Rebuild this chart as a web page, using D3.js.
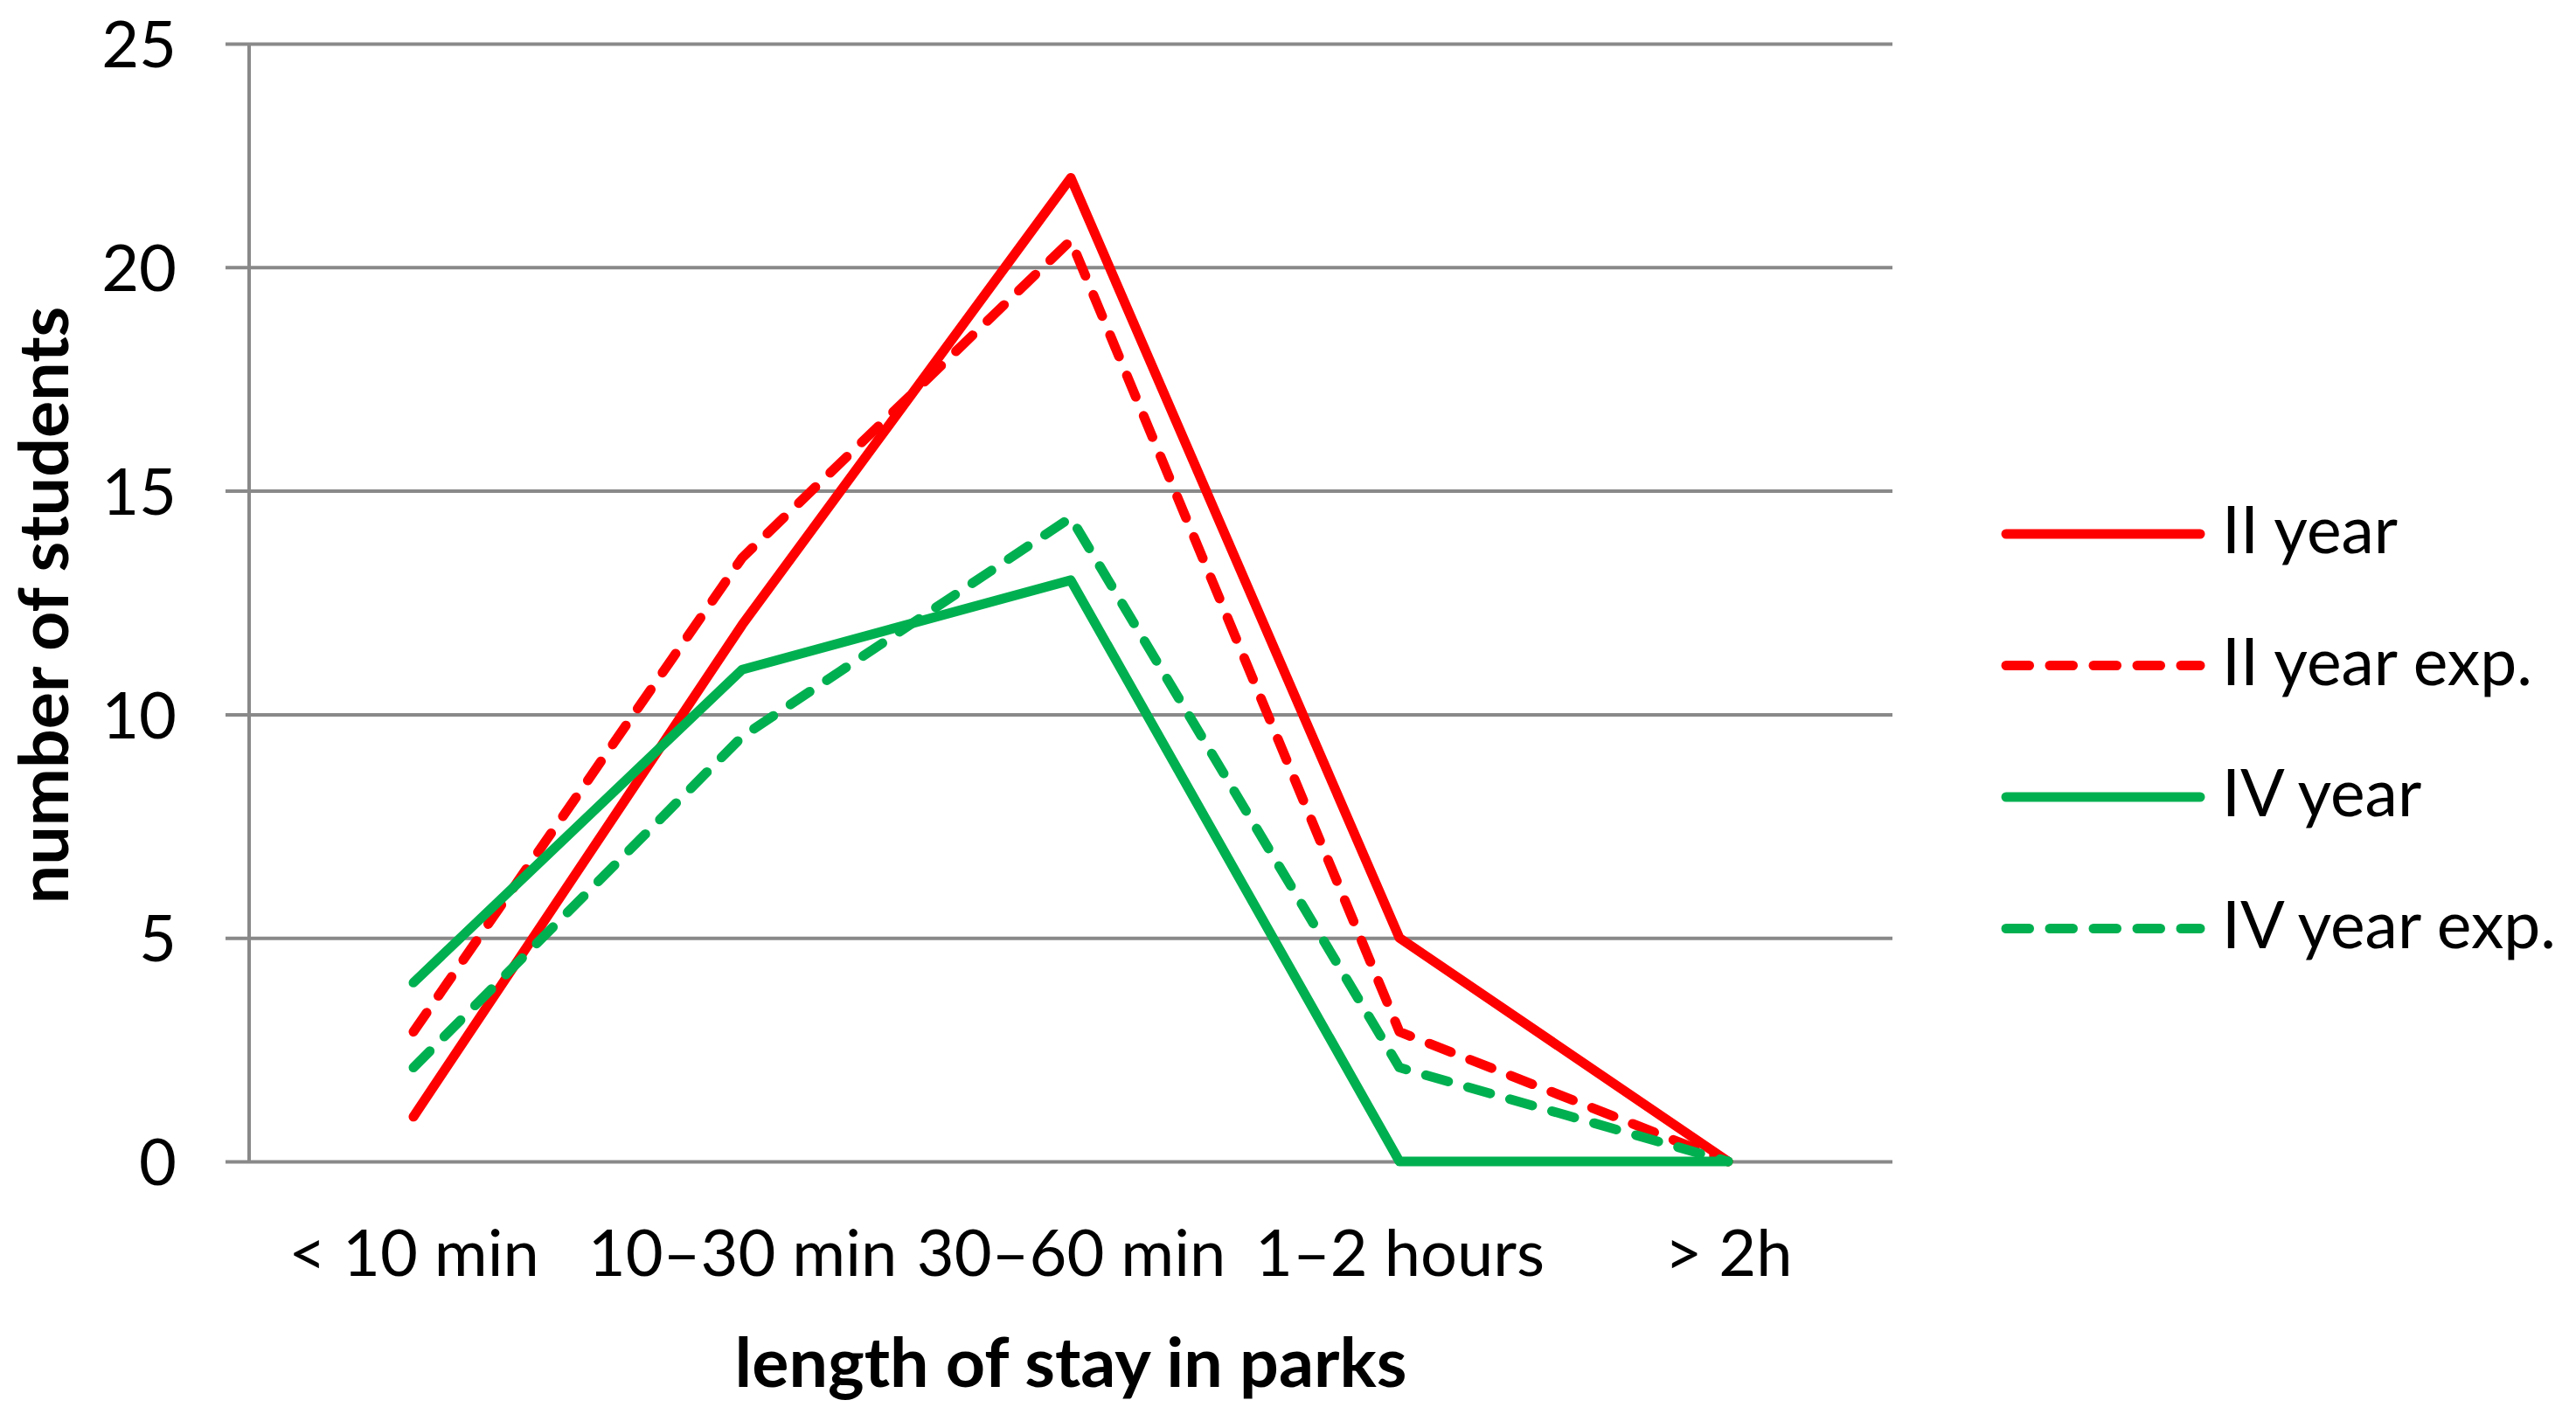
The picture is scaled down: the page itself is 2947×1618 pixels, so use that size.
<!DOCTYPE html>
<html>
<head>
<meta charset="utf-8">
<script src="https://cdn.jsdelivr.net/npm/d3@7"></script>
<style>
  html, body { margin: 0; padding: 0; background: #fff; }
  svg { display: block; font-family: Lato, "Open Sans", sans-serif; }
</style>
</head>
<body>
<div id="chart"></div>
<script>
// data
const categories = ['< 10 min', '10\u201330 min', '30\u201360 min', '1\u20132 hours', '> 2h'];
const yTicks = [0, 5, 10, 15, 20, 25];

const secondYear    = [1, 12, 22, 5, 0];
const secondYearExp = [2.9, 13.5, 20.6, 2.9, 0];
const fourthYear    = [4, 11, 13, 0, 0];
const fourthYearExp = [2.1, 9.5, 14.4, 2.1, 0];

const seriesNames = ['II year', 'II year exp.', 'IV year', 'IV year exp.'];
const seriesColors = ['#ff0000', '#ff0000', '#00b050', '#00b050'];
const seriesDashed = [false, true, false, true];

const series = [secondYear, secondYearExp, fourthYear, fourthYearExp].map((vals, i) => ({
    name: seriesNames[i],
    color: seriesColors[i],
    dashed: seriesDashed[i],
    values: vals.map((v, j) => ({ cat: categories[j], v }))
}));

const width = 2947, height = 1618;
const margin = { top: 50, right: 782, bottom: 289, left: 285 };
const plotW = width - margin.left - margin.right;
const plotH = height - margin.top - margin.bottom;

const font = 'Lato, "Open Sans", sans-serif';
const gridColor = '#898989';
const lineW = 11;
const dash = '26.5,23.5';

const svg = d3.select('#chart').append('svg')
    .attr('width', width)
    .attr('height', height);

const g = svg.append('g').attr('transform', `translate(${margin.left},${margin.top})`);

const x = d3.scalePoint().domain(categories).range([0, plotW]).padding(0.5);
const y = d3.scaleLinear().domain([0, 25]).range([plotH, 0]);

// horizontal gridlines + y labels
const yAxis = g.append('g')
    .call(d3.axisLeft(y).tickValues(yTicks).tickSize(-plotW).tickPadding(83).tickFormat(d3.format('d')))
    .attr('font-family', font);
yAxis.select('.domain').remove();
yAxis.selectAll('.tick line')
    .attr('x1', -27)
    .attr('stroke', gridColor)
    .attr('stroke-width', 4);
yAxis.selectAll('.tick text')
    .attr('font-size', 74)
    .attr('fill', '#000')
    .attr('dy', '0.36em');

// vertical axis line
g.append('line')
    .attr('x1', 0).attr('x2', 0)
    .attr('y1', 2).attr('y2', plotH)
    .attr('stroke', gridColor)
    .attr('stroke-width', 4);

// category labels
const xAxis = g.append('g')
    .attr('transform', `translate(0,${plotH})`)
    .call(d3.axisBottom(x).tickSize(0))
    .attr('font-family', font);
xAxis.select('.domain').remove();
xAxis.selectAll('.tick text')
    .attr('dy', null)
    .attr('y', 131)
    .attr('font-size', 74)
    .attr('fill', '#000');

// series lines
const line = d3.line()
    .x(d => x(d.cat))
    .y(d => y(d.v));

g.append('g').selectAll('path')
    .data(series)
    .join('path')
    .attr('d', d => line(d.values))
    .attr('fill', 'none')
    .attr('stroke', d => d.color)
    .attr('stroke-width', lineW)
    .attr('stroke-linecap', 'round')
    .attr('stroke-linejoin', 'round')
    .attr('stroke-dasharray', d => d.dashed ? dash : null);

// axis titles
svg.append('text')
    .attr('x', margin.left + plotW / 2)
    .attr('y', 1587)
    .attr('text-anchor', 'middle')
    .attr('font-size', 79)
    .attr('font-weight', 'bold')
    .text('length of stay in parks');

svg.append('text')
    .attr('transform', `translate(78,${margin.top + plotH / 2 + 3}) rotate(-90)`)
    .attr('text-anchor', 'middle')
    .attr('font-size', 79)
    .attr('font-weight', 'bold')
    .text('number of students');

// legend
const legend = svg.append('g').attr('transform', 'translate(2295,611)');
const rows = legend.selectAll('g')
    .data(series)
    .join('g')
    .attr('transform', (d, i) => `translate(0,${i * 150.5})`);
rows.append('line')
    .attr('x1', 0).attr('x2', 222)
    .attr('stroke', d => d.color)
    .attr('stroke-width', lineW)
    .attr('stroke-linecap', 'round')
    .attr('stroke-dasharray', d => d.dashed ? dash : null);
rows.append('text')
    .attr('x', 247)
    .attr('y', 22)
    .attr('font-size', 75)
    .text(d => d.name);
</script>
</body>
</html>
